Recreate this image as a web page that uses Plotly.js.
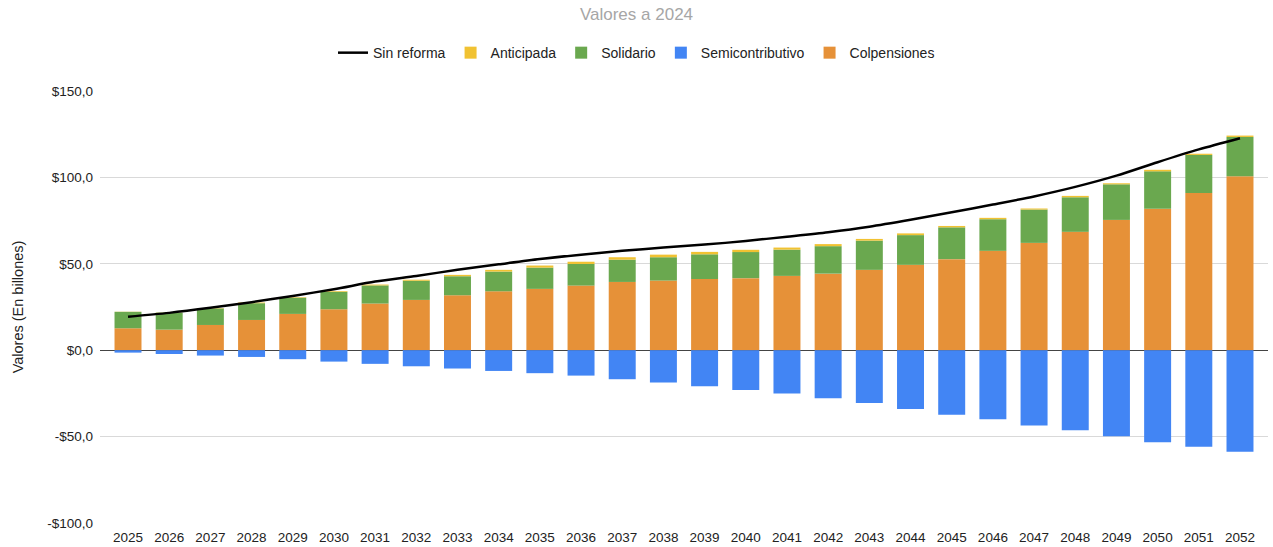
<!DOCTYPE html>
<html>
<head>
<meta charset="utf-8">
<script src="https://cdn.plot.ly/plotly-3.0.1.min.js"></script>
<style>html,body{margin:0;padding:0;background:#fff;}#chart{width:1273px;height:547px;}</style>
</head>
<body>
<div id="chart"></div>
<script>
const years = ['2025','2026','2027','2028','2029','2030','2031','2032','2033','2034','2035','2036','2037','2038','2039','2040','2041','2042','2043','2044','2045','2046','2047','2048','2049','2050','2051','2052'];
const sinReforma = [19.4,21.6,24.5,27.8,31.4,35.3,39.7,43.0,46.5,49.7,52.8,55.3,57.5,59.4,61.1,63.2,65.7,68.3,71.5,75.5,79.8,84.3,89.0,94.5,101.0,108.8,116.2,122.7];
const anticipada = [0.1,0.1,0.2,0.4,0.3,0.4,0.5,0.6,0.8,1.0,1.2,1.3,1.4,1.5,1.4,1.3,1.2,1.2,1.0,1.0,0.8,0.8,0.6,0.8,0.6,0.9,0.7,0.8];
const solidario = [9.5,9.8,9.6,9.7,9.4,10.1,10.5,11.1,11.0,11.4,12.3,12.5,12.9,13.5,14.3,15.1,15.2,15.9,16.9,17.2,18.4,18.3,19.3,20.0,20.6,21.6,22.1,22.7];
const semicontributivo = [-1.4,-2.2,-3.1,-3.9,-5.2,-6.6,-7.9,-9.3,-10.6,-12.0,-13.3,-14.7,-16.8,-18.7,-20.9,-23.1,-25.1,-27.8,-30.5,-34.1,-37.4,-40.0,-43.6,-46.3,-49.8,-53.3,-55.9,-58.8];
const colpensiones = [12.7,11.9,14.6,17.5,21.0,23.7,27.0,29.1,31.8,34.1,35.5,37.4,39.5,40.3,41.2,41.7,43.0,44.3,46.5,49.4,52.7,57.5,62.1,68.5,75.4,81.9,90.9,100.7];
const yTickVals = [-100,-50,0,50,100,150];
const yTickText = ['-$100,0','-$50,0','$0,0','$50,0','$100,0','$150,0'];

const font = 'Liberation Sans, Arial, sans-serif';
const traces = [
  {type:'bar', name:'Colpensiones', x:years, y:colpensiones, marker:{color:'#E69138'}},
  {type:'bar', name:'Semicontributivo', x:years, y:semicontributivo, marker:{color:'#4285F4'}},
  {type:'bar', name:'Solidario', x:years, y:solidario, marker:{color:'#6AA84F'}},
  {type:'bar', name:'Anticipada', x:years, y:anticipada, marker:{color:'#F1C232'}},
  {type:'scatter', mode:'lines', name:'Sin reforma', x:years, y:sinReforma, line:{color:'#000000', width:2.5, shape:'spline', smoothing:0.8}}
];
const layout = {
  width:1273, height:547,
  margin:{l:100, r:5, t:91, b:24},
  paper_bgcolor:'#ffffff', plot_bgcolor:'#ffffff',
  font:{family:font, size:13, color:'#222'},
  barmode:'relative',
  bargap:0.345,
  title:{text:'Valores a 2024', font:{family:font, size:17, color:'#a6a6a6'}, x:0.5, xanchor:'center', xref:'container', y:0.974, yanchor:'middle', yref:'container'},
  showlegend:true,
  legend:{orientation:'h', x:0.5, xanchor:'center', xref:'container', yref:'container', y:0.903, yanchor:'middle', traceorder:'reversed', itemwidth:30, font:{family:font, size:14, color:'#222'}},
  xaxis:{type:'category', range:[-0.68,27.68], showgrid:false, zeroline:false, showline:false, ticks:'', ticklabelstandoff:4, tickfont:{family:font, size:13.5, color:'#222'}, automargin:false, fixedrange:true},
  yaxis:{range:[-100,150], tickvals:yTickVals, ticktext:yTickText, showgrid:true, gridcolor:'#d9d9d9', gridwidth:1, zeroline:true, zerolinecolor:'#444', zerolinewidth:1.3, showline:false, ticks:'', ticklabelstandoff:6, tickfont:{family:font, size:13.5, color:'#222'}, automargin:false, title:{text:'Valores (En billones)', font:{family:font, size:14.5, color:'#222'}, standoff:20}}
};
Plotly.newPlot('chart', traces, layout, {displayModeBar:false, staticPlot:true});
</script>
</body>
</html>
